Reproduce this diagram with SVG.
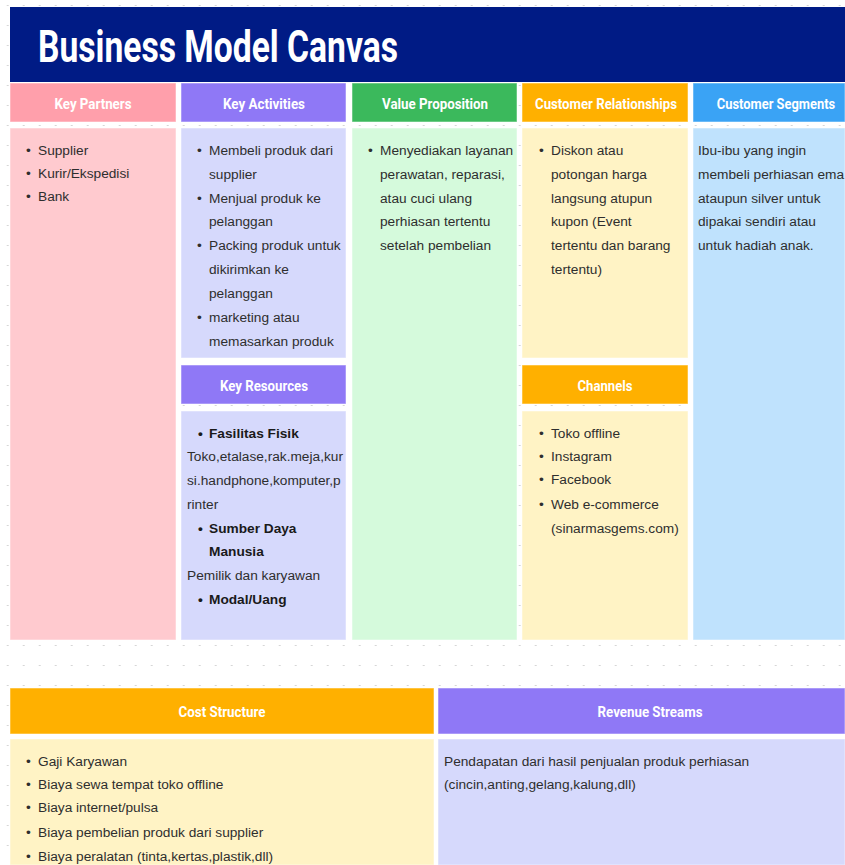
<svg xmlns="http://www.w3.org/2000/svg" width="845" height="865" viewBox="0 0 845 865">
<defs>
<pattern id="dots" x="6.7" y="5" width="16" height="20" patternUnits="userSpaceOnUse">
<rect x="0" y="0" width="2" height="1" fill="#d6d6d6"/>
</pattern>
<style>
.hd{font-family:Roboto,"Liberation Sans",sans-serif;font-weight:bold;font-size:15px;fill:#ffffff;text-anchor:middle}
.tx{font-family:"Liberation Sans",Arial,sans-serif;font-size:13.7px;fill:#2e2e2e}
.b{font-weight:bold;fill:#1a1a1a}
.kp-h{fill:#ff9fab}.kp-b{fill:#ffcacf}
.ka-h{fill:#8f78f6}.ka-b{fill:#d6d9fc}
.vp-h{fill:#3bb95c}.vp-b{fill:#d5fadc}
.cr-h{fill:#ffb000}.cr-b{fill:#fff3c5}
.cs-h{fill:#3aa3f5}.cs-b{fill:#bfe2fd}
.cell{stroke:#ffffff;stroke-opacity:0.5;stroke-width:1}
</style>
</defs>
<rect width="845" height="865" fill="#ffffff"/>
<rect width="845" height="865" fill="url(#dots)"/>

<g id="title">
<rect x="10" y="7" width="835" height="75" fill="#001b85"/>
<text x="38" y="62" font-family="Roboto,'Liberation Sans',sans-serif" font-weight="bold" font-size="45" fill="#ffffff" textLength="360" lengthAdjust="spacingAndGlyphs">Business Model Canvas</text>
</g>

<g id="key-partners">
<rect class="kp-h cell" x="10" y="83" width="166" height="39"/>
<text class="hd" x="93" y="109" textLength="77" lengthAdjust="spacingAndGlyphs">Key Partners</text>
<rect class="kp-b cell" x="10" y="128" width="166" height="512"/>
<text class="tx"><tspan x="26" y="155">•</tspan><tspan x="38" y="155">Supplier</tspan><tspan x="26" y="178">•</tspan><tspan x="38" y="178">Kurir/Ekspedisi</tspan><tspan x="26" y="201">•</tspan><tspan x="38" y="201">Bank</tspan></text>
</g>

<g id="key-activities">
<rect class="ka-h cell" x="181" y="83" width="165" height="39"/>
<text class="hd" x="264" y="109" textLength="82" lengthAdjust="spacingAndGlyphs">Key Activities</text>
<rect class="ka-b cell" x="181" y="128" width="165" height="230"/>
<text class="tx"><tspan x="197" y="155">•</tspan><tspan x="209" y="155">Membeli produk dari</tspan><tspan x="209" y="179">supplier</tspan><tspan x="197" y="203">•</tspan><tspan x="209" y="203">Menjual produk ke</tspan><tspan x="209" y="226">pelanggan</tspan><tspan x="197" y="250">•</tspan><tspan x="209" y="250">Packing produk untuk</tspan><tspan x="209" y="274">dikirimkan ke</tspan><tspan x="209" y="298">pelanggan</tspan><tspan x="197" y="322">•</tspan><tspan x="209" y="322">marketing atau</tspan><tspan x="209" y="346">memasarkan produk</tspan></text>
</g>

<g id="key-resources">
<rect class="ka-h cell" x="181" y="365" width="165" height="39"/>
<text class="hd" x="264" y="391" textLength="88" lengthAdjust="spacingAndGlyphs">Key Resources</text>
<rect class="ka-b cell" x="181" y="411" width="165" height="229"/>
<text class="tx"><tspan x="198" y="438" class="b">•</tspan><tspan x="209" y="438" class="b">Fasilitas Fisik</tspan><tspan x="187" y="461">Toko,etalase,rak.meja,kur</tspan><tspan x="187" y="485">si.handphone,komputer,p</tspan><tspan x="187" y="509">rinter</tspan><tspan x="198" y="533" class="b">•</tspan><tspan x="209" y="533" class="b">Sumber Daya</tspan><tspan x="209" y="556" class="b">Manusia</tspan><tspan x="187" y="580">Pemilik dan karyawan</tspan><tspan x="198" y="604" class="b">•</tspan><tspan x="209" y="604" class="b">Modal/Uang</tspan></text>
</g>

<g id="value-proposition">
<rect class="vp-h cell" x="352" y="83" width="165" height="39"/>
<text class="hd" x="435" y="109" textLength="106" lengthAdjust="spacingAndGlyphs">Value Proposition</text>
<rect class="vp-b cell" x="352" y="128" width="165" height="512"/>
<text class="tx"><tspan x="368" y="155">•</tspan><tspan x="380" y="155">Menyediakan layanan</tspan><tspan x="380" y="179">perawatan, reparasi,</tspan><tspan x="380" y="203">atau cuci ulang</tspan><tspan x="380" y="226">perhiasan tertentu</tspan><tspan x="380" y="250">setelah pembelian</tspan></text>
</g>

<g id="customer-relationships">
<rect class="cr-h cell" x="522" y="83" width="166" height="39"/>
<text class="hd" x="606" y="109" textLength="142" lengthAdjust="spacingAndGlyphs">Customer Relationships</text>
<rect class="cr-b cell" x="522" y="128" width="166" height="230"/>
<text class="tx"><tspan x="539" y="155">•</tspan><tspan x="551" y="155">Diskon atau</tspan><tspan x="551" y="179">potongan harga</tspan><tspan x="551" y="203">langsung atupun</tspan><tspan x="551" y="226">kupon (Event</tspan><tspan x="551" y="250">tertentu dan barang</tspan><tspan x="551" y="274">tertentu)</tspan></text>
</g>

<g id="channels">
<rect class="cr-h cell" x="522" y="365" width="166" height="39"/>
<text class="hd" x="605" y="391" textLength="55" lengthAdjust="spacingAndGlyphs">Channels</text>
<rect class="cr-b cell" x="522" y="411" width="166" height="229"/>
<text class="tx"><tspan x="539" y="438">•</tspan><tspan x="551" y="438">Toko offline</tspan><tspan x="539" y="461">•</tspan><tspan x="551" y="461">Instagram</tspan><tspan x="539" y="484">•</tspan><tspan x="551" y="484">Facebook</tspan><tspan x="539" y="509">•</tspan><tspan x="551" y="509">Web e-commerce</tspan><tspan x="551" y="533">(sinarmasgems.com)</tspan></text>
</g>

<g id="customer-segments">
<rect class="cs-h cell" x="693" y="83" width="152" height="39"/>
<text class="hd" transform="translate(776,109) scale(0.86,1)" x="0" y="0">Customer Segments</text>
<rect class="cs-b cell" x="693" y="128" width="152" height="512"/>
<text class="tx"><tspan x="698" y="155">Ibu-ibu yang ingin</tspan><tspan x="698" y="179">membeli perhiasan ema</tspan><tspan x="698" y="203">ataupun silver untuk</tspan><tspan x="698" y="226">dipakai sendiri atau</tspan><tspan x="698" y="250">untuk hadiah anak.</tspan></text>
</g>

<g id="cost-structure">
<rect class="cr-h cell" x="10" y="688" width="424" height="46"/>
<text class="hd" x="222" y="717" textLength="87" lengthAdjust="spacingAndGlyphs">Cost Structure</text>
<rect class="cr-b cell" x="10" y="739" width="424" height="126"/>
<text class="tx"><tspan x="26" y="766">•</tspan><tspan x="38" y="766">Gaji Karyawan</tspan><tspan x="26" y="789">•</tspan><tspan x="38" y="789">Biaya sewa tempat toko offline</tspan><tspan x="26" y="812">•</tspan><tspan x="38" y="812">Biaya internet/pulsa</tspan><tspan x="26" y="837">•</tspan><tspan x="38" y="837">Biaya pembelian produk dari supplier</tspan><tspan x="26" y="861">•</tspan><tspan x="38" y="861">Biaya peralatan (tinta,kertas,plastik,dll)</tspan></text>
</g>

<g id="revenue-streams">
<rect class="ka-h cell" x="438" y="688" width="407" height="46"/>
<text class="hd" x="650" y="717" textLength="105" lengthAdjust="spacingAndGlyphs">Revenue Streams</text>
<rect class="ka-b cell" x="438" y="739" width="407" height="126"/>
<text class="tx"><tspan x="444" y="766">Pendapatan dari hasil penjualan produk perhiasan</tspan><tspan x="444" y="789">(cincin,anting,gelang,kalung,dll)</tspan></text>
</g>

<g id="connectors"></g>
</svg>
